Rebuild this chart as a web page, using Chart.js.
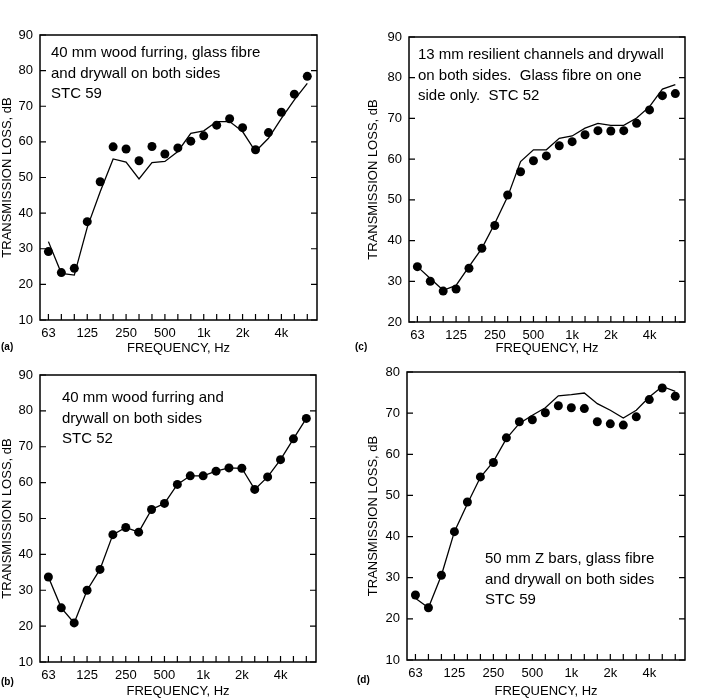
<!DOCTYPE html>
<html>
<head>
<meta charset="utf-8">
<script src="https://cdn.jsdelivr.net/npm/chart.js@4"></script>
<style>
  body { margin: 0; background: #fff; }
  #wrap { position: relative; width: 704px; height: 699px; overflow: hidden; }
  canvas { position: absolute; }
</style>
</head>
<body>
<div id="wrap">
  <canvas id="chartA" width="352" height="356" style="left:0;top:0"></canvas>
  <canvas id="chartC" width="352" height="356" style="left:352px;top:0"></canvas>
  <canvas id="chartB" width="352" height="351" style="left:0;top:348px"></canvas>
  <canvas id="chartD" width="352" height="351" style="left:352px;top:348px"></canvas>
</div>
<script>
// one-third octave bands, 63 Hz .. 6.3 kHz
const bands = ["63", "80", "100", "125", "160", "200", "250", "315", "400", "500", "630",
  "800", "1k", "1.25k", "1.6k", "2k", "2.5k", "3.15k", "4k", "5k", "6.3k"];
const tickLabels = ["63", "125", "250", "500", "1k", "2k", "4k"];

const aMeasured = [29.2, 23.3, 24.5, 37.6, 48.8, 58.6, 58.0, 54.7, 58.7, 56.6, 58.3,
  60.2, 61.7, 64.7, 66.5, 64.0, 57.8, 62.6, 68.3, 73.4, 78.4];
const aPredicted = [32.0, 23.1, 22.6, 36.0, 46.0, 55.2, 54.3, 49.6, 54.2, 54.5, 57.3,
  62.4, 63.1, 65.7, 65.7, 62.9, 57.3, 61.0, 66.6, 71.8, 76.4];

const cMeasured = [33.6, 30.0, 27.6, 28.1, 33.2, 38.1, 43.7, 51.2, 56.9, 59.6, 60.8,
  63.3, 64.3, 66.0, 67.0, 66.9, 67.0, 68.8, 72.1, 75.6, 76.1];
const cPredicted = [33.6, 30.7, 27.8, 29.0, 33.6, 38.1, 44.2, 50.8, 59.4, 62.3, 62.3,
  65.1, 65.7, 67.6, 68.8, 68.3, 68.3, 70.1, 72.9, 77.2, 78.3];

const bMeasured = [33.7, 25.1, 20.9, 30.0, 35.8, 45.5, 47.5, 46.2, 52.5, 54.2, 59.5,
  61.9, 61.9, 63.2, 64.1, 64.0, 58.1, 61.6, 66.4, 72.2, 77.9];

const dMeasured = [25.8, 22.7, 30.6, 41.2, 48.4, 54.5, 58.0, 64.0, 67.9, 68.4, 70.1,
  71.8, 71.3, 71.1, 67.9, 67.4, 67.1, 69.1, 73.3, 76.1, 74.1];
const dPredicted = [25.0, 22.7, 30.6, 41.2, 48.0, 54.4, 58.2, 63.8, 67.5, 69.5, 71.3,
  74.2, 74.5, 74.9, 72.3, 70.7, 68.8, 70.7, 73.9, 76.5, 75.3];

const FONT = "'Liberation Sans', Arial, sans-serif";

// frame, inward ticks, note text and panel tag
const decor = {
  id: "decor",
  afterDatasetsDraw(chart, args, opts) {
    const { ctx, chartArea: a, scales } = chart;
    ctx.save();
    ctx.strokeStyle = "#000";
    ctx.lineWidth = 1.5;
    ctx.strokeRect(a.left, a.top, a.right - a.left, a.bottom - a.top);
    ctx.lineWidth = 1.2;
    ctx.beginPath();
    scales.x.ticks.forEach((t) => {
      const x = scales.x.getPixelForValue(t.value);
      ctx.moveTo(x, a.bottom);
      ctx.lineTo(x, a.bottom - 6);
    });
    scales.y.ticks.forEach((t) => {
      const y = scales.y.getPixelForValue(t.value);
      ctx.moveTo(a.left, y);
      ctx.lineTo(a.left + 6, y);
      ctx.moveTo(a.right, y);
      ctx.lineTo(a.right - 6, y);
    });
    ctx.stroke();

    ctx.fillStyle = "#000";
    ctx.textBaseline = "middle";
    ctx.textAlign = "left";
    ctx.font = "15px " + FONT;
    opts.note.forEach((line, i) => {
      ctx.fillText(line, a.left + opts.noteX, a.top + opts.noteY + i * 20.5);
    });
    ctx.font = "bold 10px " + FONT;
    ctx.fillText(opts.tag, opts.tagX, opts.tagY);
    ctx.restore();
  },
};

function makePanel(id, cfg) {
  const pts = (arr) => arr.map((v, i) => ({ x: i, y: v }));
  const datasets = [];
  if (cfg.predicted) {
    datasets.push({
      data: pts(cfg.predicted),
      showLine: true,
      borderColor: "#000",
      borderWidth: 1.3,
      pointRadius: 0,
      tension: 0,
    });
  }
  datasets.push({
    data: pts(cfg.measured),
    showLine: !cfg.predicted,
    borderColor: "#000",
    borderWidth: 1.3,
    backgroundColor: "#000",
    pointRadius: 4.5,
    pointBorderWidth: 0,
    pointBackgroundColor: "#000",
    tension: 0,
  });

  new Chart(document.getElementById(id), {
    type: "scatter",
    data: { datasets },
    options: {
      responsive: false,
      devicePixelRatio: 1,
      animation: false,
      layout: { padding: { top: cfg.top, right: cfg.right, left: cfg.left, bottom: 0 } },
      plugins: {
        legend: { display: false },
        tooltip: { enabled: false },
        decor: cfg.decor,
      },
      scales: {
        x: {
          type: "linear",
          min: -0.65,
          max: 20.75,
          grid: { display: false, drawTicks: false },
          border: { display: false },
          afterBuildTicks: (scale) => {
            scale.ticks = bands.map((b, i) => ({ value: i }));
          },
          afterFit: (scale) => {
            scale.height = cfg.xHeight;
          },
          ticks: {
            autoSkip: false,
            maxRotation: 0,
            padding: 6,
            color: "#000",
            font: { family: FONT, size: 13 },
            callback: (v) => (tickLabels.includes(bands[v]) ? bands[v] : ""),
          },
          title: {
            display: true,
            text: "FREQUENCY, Hz",
            color: "#000",
            padding: 0,
            font: { family: FONT, size: 13 },
          },
        },
        y: {
          min: cfg.yMin,
          max: cfg.yMax,
          grid: { display: false, drawTicks: false },
          border: { display: false },
          afterFit: (scale) => {
            scale.width = cfg.yWidth;
          },
          ticks: {
            stepSize: 10,
            padding: 7,
            color: "#000",
            font: { family: FONT, size: 13 },
          },
          title: {
            display: true,
            text: "TRANSMISSION LOSS, dB",
            color: "#000",
            padding: 0,
            font: { family: FONT, size: 13 },
          },
        },
      },
    },
    plugins: [decor],
  });
}

makePanel("chartA", {
  measured: aMeasured, predicted: aPredicted, yMin: 10, yMax: 90,
  top: 35, right: 35, left: 0, yWidth: 40, xHeight: 36,
  decor: {
    note: ["40 mm wood furring, glass fibre", "and drywall on both sides", "STC 59"],
    noteX: 11, noteY: 18, tag: "(a)", tagX: 1, tagY: 347,
  },
});

makePanel("chartC", {
  measured: cMeasured, predicted: cPredicted, yMin: 20, yMax: 90,
  top: 37, right: 19, left: 14, yWidth: 43, xHeight: 34,
  decor: {
    note: ["13 mm resilient channels and drywall", "on both sides.  Glass fibre on one", "side only.  STC 52"],
    noteX: 9, noteY: 18, tag: "(c)", tagX: 3, tagY: 347,
  },
});

makePanel("chartB", {
  measured: bMeasured, predicted: null, yMin: 10, yMax: 90,
  top: 27, right: 36, left: 0, yWidth: 40, xHeight: 37,
  decor: {
    note: ["40 mm wood furring and", "drywall on both sides", "STC 52"],
    noteX: 22, noteY: 23, tag: "(b)", tagX: 1, tagY: 334,
  },
});

makePanel("chartD", {
  measured: dMeasured, predicted: dPredicted, yMin: 10, yMax: 80,
  top: 24, right: 19, left: 14, yWidth: 41, xHeight: 39,
  decor: {
    note: ["50 mm Z bars, glass fibre", "and drywall on both sides", "STC 59"],
    noteX: 78, noteY: 187, tag: "(d)", tagX: 5, tagY: 332,
  },
});
</script>
</body>
</html>
